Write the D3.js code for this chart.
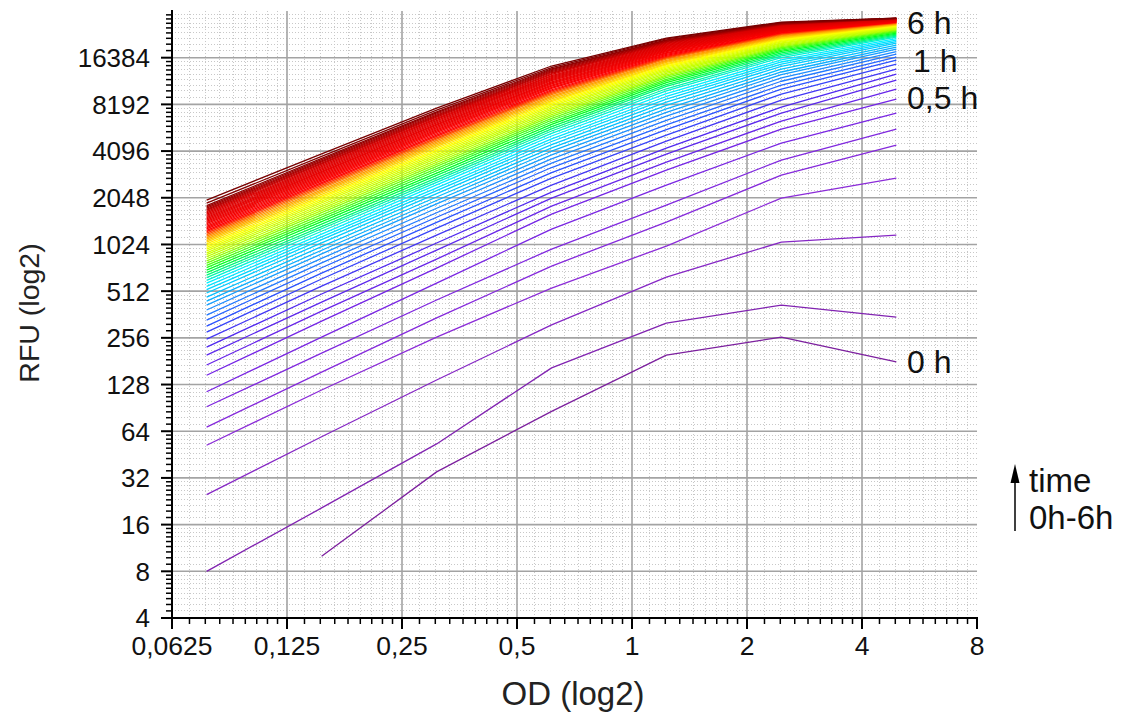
<!DOCTYPE html>
<html>
<head>
<meta charset="utf-8">
<script src="https://cdn.jsdelivr.net/npm/d3@7"></script>
<style>
  html, body { margin: 0; padding: 0; background: #ffffff; }
  svg { display: block; font-family: "Liberation Sans", Arial, sans-serif; }
</style>
</head>
<body>
<svg id="chart" width="1121" height="718"></svg>
<script>
// OD of each well in the dilution series (x of every curve point)
const odValues = [0.077, 0.154, 0.308, 0.616, 1.23, 2.46, 4.92];

// Read-out times in minutes, one curve per read-out
const timesMin = [
  0, 5, 10, 15, 20, 25, 30, 35, 40, 45, 50, 55, 60, 65, 70, 75, 80, 85, 90, 95,
  100, 105, 110, 115, 120, 125, 130, 135, 140, 145, 150, 155, 160, 165, 170, 175,
  180, 185, 190, 195, 200, 205, 210, 215, 220, 225, 230, 235, 240, 245, 250, 255,
  260, 265, 270, 275, 280, 285, 290, 295, 300, 305, 310, 315, 320, 325, 330, 335,
  340, 345, 350, 355, 360
];

// Fluorescence (RFU) per read-out, one value per OD above (null = below range)
const rfuByTime = [
  [null, 10, 35, 86, 198, 259, 179],
  [8, 20.5, 53, 164, 319, 416, 348],
  [25, 59, 137, 310, 631, 1061, 1177],
  [52, 118, 259, 536, 1000, 2038, 2742],
  [68, 154, 344, 743, 1427, 2868, 4476],
  [92, 204, 449, 956, 1837, 3583, 5678],
  [115, 259, 577, 1286, 2473, 4612, 7196],
  [147, 328, 721, 1608, 3089, 5678, 8860],
  [171, 381, 824, 1810, 3478, 6392, 10280],
  [198, 435, 942, 2038, 3916, 7196, 11750],
  [223, 491, 1046, 2229, 4282, 7869, 12840],
  [251, 552, 1177, 2473, 4751, 8732, 13830],
  [279, 613, 1306, 2742, 5192, 9541, 14900],
  [305, 669, 1421, 2976, 5639, 10280, 15800],
  [333, 725, 1534, 3209, 6039, 10890, 16530],
  [359, 779, 1639, 3423, 6459, 11550, 17280],
  [387, 833, 1753, 3651, 6874, 12130, 17940],
  [416, 890, 1868, 3875, 7281, 12730, 18610],
  [442, 940, 1967, 4087, 7670, 13250, 19180],
  [469, 993, 2071, 4294, 8063, 13830, 19760],
  [498, 1049, 2180, 4510, 8475, 14410, 20350],
  [524, 1099, 2277, 4721, 8860, 14890, 20810],
  [550, 1146, 2372, 4912, 9210, 15370, 21280],
  [576, 1194, 2478, 5123, 9608, 15860, 21760],
  [601, 1246, 2576, 5323, 10020, 16420, 22240],
  [626, 1293, 2665, 5518, 10330, 16820, 22570],
  [650, 1334, 2752, 5690, 10690, 17230, 22920],
  [675, 1384, 2853, 5882, 10990, 17600, 23250],
  [700, 1436, 2955, 6081, 11300, 17980, 23610],
  [726, 1488, 3059, 6282, 11610, 18340, 23950],
  [751, 1538, 3161, 6472, 11890, 18680, 24240],
  [777, 1590, 3263, 6663, 12170, 18990, 24490],
  [802, 1642, 3364, 6855, 12450, 19300, 24750],
  [828, 1693, 3463, 7038, 12710, 19590, 24970],
  [854, 1744, 3568, 7231, 12980, 19880, 25200],
  [880, 1797, 3671, 7419, 13250, 20170, 25430],
  [905, 1847, 3769, 7601, 13500, 20420, 25600],
  [931, 1898, 3870, 7788, 13770, 20690, 25800],
  [956, 1948, 3970, 7974, 14020, 20970, 26000],
  [982, 2002, 4076, 8164, 14290, 21230, 26200],
  [1007, 2051, 4171, 8341, 14520, 21470, 26340],
  [1033, 2101, 4273, 8522, 14780, 21720, 26510],
  [1059, 2154, 4375, 8707, 15020, 21950, 26650],
  [1085, 2206, 4479, 8896, 15270, 22200, 26820],
  [1109, 2254, 4577, 9077, 15510, 22430, 26970],
  [1134, 2306, 4676, 9262, 15760, 22680, 27140],
  [1160, 2359, 4784, 9456, 16030, 22930, 27310],
  [1186, 2410, 4885, 9634, 16260, 23140, 27420],
  [1213, 2463, 4987, 9816, 16490, 23350, 27540],
  [1238, 2514, 5088, 10000, 16730, 23580, 27670],
  [1264, 2565, 5192, 10180, 16960, 23790, 27780],
  [1291, 2619, 5297, 10380, 17200, 24000, 27920],
  [1316, 2671, 5401, 10560, 17440, 24220, 28040],
  [1341, 2721, 5503, 10740, 17670, 24420, 28150],
  [1367, 2774, 5607, 10920, 17900, 24630, 28250],
  [1394, 2827, 5705, 11110, 18120, 24800, 28330],
  [1419, 2878, 5809, 11280, 18330, 24990, 28410],
  [1444, 2929, 5906, 11460, 18550, 25160, 28490],
  [1470, 2982, 6013, 11640, 18770, 25360, 28590],
  [1497, 3034, 6115, 11830, 18990, 25530, 28670],
  [1524, 3089, 6221, 12010, 19220, 25710, 28740],
  [1551, 3141, 6330, 12200, 19440, 25910, 28840],
  [1579, 3198, 6437, 12390, 19670, 26090, 28920],
  [1608, 3254, 6549, 12570, 19890, 26270, 29000],
  [1636, 3311, 6659, 12780, 20130, 26470, 29110],
  [1666, 3371, 6771, 12960, 20350, 26650, 29190],
  [1696, 3428, 6884, 13150, 20550, 26780, 29230],
  [1726, 3485, 6989, 13330, 20770, 26930, 29270],
  [1757, 3546, 7102, 13510, 20960, 27080, 29310],
  [1789, 3606, 7216, 13700, 21180, 27210, 29350],
  [1824, 3671, 7337, 13890, 21370, 27360, 29390],
  [1892, 3787, 7522, 14160, 21630, 27540, 29450],
  [1980, 3932, 7750, 14480, 21920, 27780, 29490]
];

// Axis ticks
const xTickValues = [0.0625, 0.125, 0.25, 0.5, 1, 2, 4, 8];
const xTickLabels = ["0,0625", "0,125", "0,25", "0,5", "1", "2", "4", "8"];
const yTickValues = [4, 8, 16, 32, 64, 128, 256, 512, 1024, 2048, 4096, 8192, 16384];

// Curves annotated at their right end
const curveLabelTimes = [360, 60, 30, 0];
const curveLabelTexts = ["6 h", "1 h", "0,5 h", "0 h"];

// Colour ramp across the read-out times (minutes)
const colourStopsMin = [0, 15, 35, 50, 65, 80, 95, 115, 140, 165, 200, 228, 248, 320, 360];
const colourStops = ["#7c1f9e", "#8b2bd8", "#7424e6", "#5028f0", "#2a52ff", "#1e8cff", "#00bfff",
                     "#00efff", "#00ff20", "#b0ff00", "#ffff00", "#ff9000", "#ff0000", "#d80000", "#780000"];

(function draw() {
  const svg = d3.select("#chart");
  const pL = 172, pR = 977, pT = 11, pB = 618;

  const x = d3.scaleLog().base(2).domain([0.0625, 8]).range([pL, pR]);
  const y = d3.scaleLog().base(2).domain([4, 32768]).range([pB, pT]);
  const colour = d3.scaleLinear().domain(colourStopsMin).range(colourStops).interpolate(d3.interpolateRgb);

  // minor ticks: 8 per doubling
  function minorTicks(domain) {
    const out = [];
    for (let a = domain[0]; a < domain[1] - 1e-9; a *= 2) {
      for (let k = 1; k <= 8; k++) out.push(a * (1 + k / 9));
    }
    return out;
  }
  const xMinor = minorTicks(x.domain());
  const yMinor = minorTicks(y.domain());

  // ---- grid ----
  const grid = svg.append("g");
  grid.selectAll(".vmin").data(xMinor).join("line")
    .attr("x1", d => x(d)).attr("x2", d => x(d))
    .attr("y1", pT).attr("y2", pB)
    .attr("stroke", "#c8c8c8").attr("stroke-width", 1)
    .attr("stroke-dasharray", "1,2").attr("shape-rendering", "crispEdges");
  grid.selectAll(".hmin").data(yMinor).join("line")
    .attr("x1", pL).attr("x2", pR)
    .attr("y1", d => y(d)).attr("y2", d => y(d))
    .attr("stroke", "#c8c8c8").attr("stroke-width", 1)
    .attr("stroke-dasharray", "1,2").attr("shape-rendering", "crispEdges");
  grid.selectAll(".vmaj").data(xTickValues.slice(1, -1)).join("line")
    .attr("x1", d => x(d)).attr("x2", d => x(d))
    .attr("y1", pT).attr("y2", pB)
    .attr("stroke", "#a3a3a3").attr("stroke-width", 1.6);
  grid.selectAll(".hmaj").data(yTickValues.slice(1)).join("line")
    .attr("x1", pL).attr("x2", pR)
    .attr("y1", d => y(d)).attr("y2", d => y(d))
    .attr("stroke", "#a3a3a3").attr("stroke-width", 1.6);

  // ---- curves ----
  const line = d3.line()
    .defined(d => d[1] != null)
    .x(d => x(d[0]))
    .y(d => y(d[1]));

  svg.append("g").selectAll("path")
    .data(rfuByTime.map((row, i) => ({ t: timesMin[i], pts: row.map((v, j) => [odValues[j], v]) })))
    .join("path")
    .attr("d", d => line(d.pts))
    .attr("fill", "none")
    .attr("stroke", d => colour(d.t))
    .attr("stroke-width", 1.3)
    .attr("stroke-linejoin", "round");

  // ---- axes ----
  const axes = svg.append("g").attr("stroke", "#000");
  axes.append("line").attr("x1", pL).attr("x2", pL).attr("y1", pT - 1).attr("y2", pB + 1).attr("stroke-width", 2);
  axes.append("line").attr("x1", pL - 1).attr("x2", pR + 1).attr("y1", pB).attr("y2", pB).attr("stroke-width", 2);
  axes.selectAll(".ytm").data(yTickValues).join("line")
    .attr("x1", pL - 11).attr("x2", pL).attr("y1", d => y(d)).attr("y2", d => y(d)).attr("stroke-width", 2);
  axes.selectAll(".ytn").data(yMinor).join("line")
    .attr("x1", pL - 6).attr("x2", pL).attr("y1", d => y(d)).attr("y2", d => y(d)).attr("stroke-width", 1.5);
  axes.selectAll(".xtm").data(xTickValues).join("line")
    .attr("x1", d => x(d)).attr("x2", d => x(d)).attr("y1", pB).attr("y2", pB + 11).attr("stroke-width", 2);
  axes.selectAll(".xtn").data(xMinor).join("line")
    .attr("x1", d => x(d)).attr("x2", d => x(d)).attr("y1", pB).attr("y2", pB + 6).attr("stroke-width", 1.5);

  // tick labels
  svg.append("g").selectAll("text").data(yTickValues).join("text")
    .attr("x", pL - 22).attr("y", d => y(d)).attr("dy", "0.36em")
    .attr("text-anchor", "end").attr("font-size", 26).attr("fill", "#111")
    .text(d => d);
  svg.append("g").selectAll("text").data(xTickValues).join("text")
    .attr("x", d => x(d)).attr("y", pB + 37)
    .attr("text-anchor", "middle").attr("font-size", 26.5).attr("fill", "#111")
    .text((d, i) => xTickLabels[i]);

  // axis titles
  svg.append("text").attr("x", 573).attr("y", 705).attr("text-anchor", "middle")
    .attr("font-size", 33).attr("fill", "#222").text("OD (log2)");
  svg.append("text").attr("transform", "translate(39,313) rotate(-90)").attr("text-anchor", "middle")
    .attr("font-size", 28.5).attr("fill", "#222").text("RFU (log2)");

  // ---- curve end labels ----
  const labelDy = [4, -4, -16, 0];
  svg.append("g").selectAll("text").data(curveLabelTimes).join("text")
    .attr("x", (d, i) => i === 1 ? 913 : 907)
    .attr("y", (d, i) => y(rfuByTime[timesMin.indexOf(d)][6]) + labelDy[i])
    .attr("dy", "0.36em").attr("font-size", 32).attr("fill", "#111")
    .text((d, i) => curveLabelTexts[i]);

  // ---- time direction note ----
  const note = svg.append("g");
  note.append("line").attr("x1", 1015).attr("x2", 1015).attr("y1", 531).attr("y2", 478)
    .attr("stroke", "#000").attr("stroke-width", 1.5);
  note.append("path").attr("d", "M1015,464 L1010.5,483 L1019.5,483 Z").attr("fill", "#000");
  note.append("text").attr("x", 1029).attr("y", 492).attr("font-size", 33).attr("fill", "#111").text("time");
  note.append("text").attr("x", 1029).attr("y", 529).attr("font-size", 33).attr("fill", "#111").text("0h-6h");
})();
</script>
</body>
</html>
